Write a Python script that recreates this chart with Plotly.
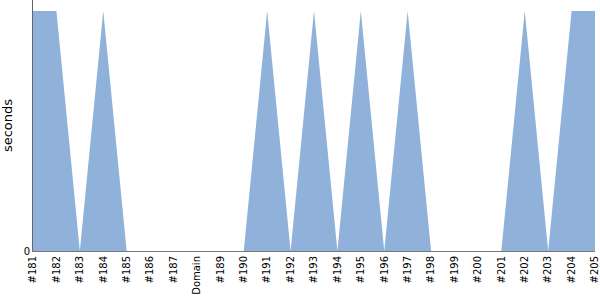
import plotly.graph_objects as go

categories = ["#181", "#182", "#183", "#184", "#185", "#186", "#187", "Domain", "#189", "#190",
              "#191", "#192", "#193", "#194", "#195", "#196", "#197", "#198", "#199", "#200",
              "#201", "#202", "#203", "#204", "#205"]
seconds = [1, 1, 0, 1, 0, 0, 0, 0, 0, 0,
           1, 0, 1, 0, 1, 0, 1, 0, 0, 0,
           0, 1, 0, 1, 1]

fig = go.Figure()
fig.add_trace(go.Scatter(
    x=list(range(len(categories))), y=seconds, mode="lines",
    fill="tozeroy", fillcolor="#8fb1da", line=dict(width=0, color="#8fb1da"),
    hoverinfo="skip", showlegend=False,
))
fig.update_layout(
    width=600, height=300,
    margin=dict(l=33, r=5, t=0, b=49, pad=0),
    paper_bgcolor="white", plot_bgcolor="white",
    font=dict(family="DejaVu Sans", size=10, color="black"),
)
fig.update_xaxes(
    tickmode="array", tickvals=list(range(len(categories))), ticktext=categories,
    tickangle=-90, range=[0, len(categories) - 1], showgrid=False, zeroline=False,
    showline=True, linecolor="#777777", linewidth=1, ticks="", ticklen=0,
    ticklabeloverflow="allow",
)
fig.update_yaxes(
    range=[0, 1.046], tickmode="array", tickvals=[0], ticktext=["0"],
    showgrid=False, zeroline=False, showline=True, linecolor="#666666", linewidth=1,
    ticks="", layer="above traces",
    title=dict(text="seconds", font=dict(size=13), standoff=10),
)
fig.write_html("out.html")
